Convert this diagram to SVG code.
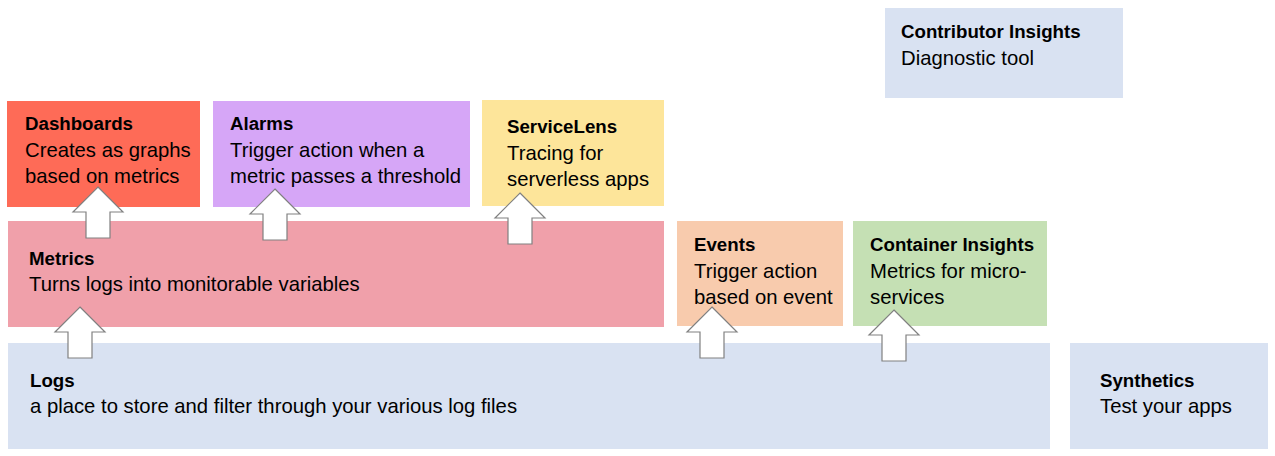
<svg xmlns="http://www.w3.org/2000/svg" width="1275" height="456" viewBox="0 0 1275 456">
<style>
text{font-family:"Liberation Sans",Arial,sans-serif;font-size:20.3px;fill:#000}
.t{font-weight:bold;font-size:18.7px}
.ar{fill:#fff;stroke:#808080;stroke-width:1.2;stroke-linejoin:miter}
</style>
<defs>
<path id="arrow" d="M0,0 L25,25 L12,25 L12,51 L-12,51 L-12,25 L-25,25 Z"/>
</defs>
<rect width="1275" height="456" fill="#fff"/>
<g id="logs"><rect x="8" y="343" width="1042" height="106" fill="#D9E2F2"/>
<text class="t" x="30" y="387">Logs</text><text x="30" y="413">a place to store and filter through your various log files</text></g>
<g id="synthetics"><rect x="1070" y="343" width="198" height="106" fill="#D9E2F2"/>
<text class="t" x="1100" y="387">Synthetics</text><text x="1100" y="413">Test your apps</text></g>
<g id="contributor"><rect x="885" y="8" width="238" height="90" fill="#D9E2F2"/>
<text class="t" x="901" y="38">Contributor Insights</text><text x="901" y="65">Diagnostic tool</text></g>
<g id="metrics"><rect x="8" y="221" width="656" height="106" fill="#F0A0AA"/>
<text class="t" x="29" y="265">Metrics</text><text x="29" y="291">Turns logs into monitorable variables</text></g>
<g id="events"><rect x="677" y="221" width="166" height="105" fill="#F8CBAD"/>
<text class="t" x="694" y="251">Events</text><text x="694" y="278">Trigger action</text><text x="694" y="304">based on event</text></g>
<g id="container"><rect x="853" y="221" width="194" height="105" fill="#C5E0B4"/>
<text class="t" x="870" y="251">Container Insights</text><text x="870" y="278">Metrics for micro-</text><text x="870" y="304">services</text></g>
<g id="dashboards"><rect x="7" y="101" width="193" height="106" fill="#FE6B57"/>
<text class="t" x="25" y="130">Dashboards</text><text x="25" y="157">Creates as graphs</text><text x="25" y="183">based on metrics</text></g>
<g id="alarms"><rect x="213" y="101" width="257" height="106" fill="#D6A6F7"/>
<text class="t" x="230" y="130">Alarms</text><text x="230" y="157">Trigger action when a</text><text x="230" y="183">metric passes a threshold</text></g>
<g id="servicelens"><rect x="482" y="100" width="182" height="106" fill="#FDE59A"/>
<text class="t" x="507" y="133">ServiceLens</text><text x="507" y="160">Tracing for</text><text x="507" y="186">serverless apps</text></g>
<g id="connectors">
<use href="#arrow" class="ar" transform="translate(98,187)"/>
<use href="#arrow" class="ar" transform="translate(275,189)"/>
<use href="#arrow" class="ar" transform="translate(520,193)"/>
<use href="#arrow" class="ar" transform="translate(80,307)"/>
<use href="#arrow" class="ar" transform="translate(712,307)"/>
<use href="#arrow" class="ar" transform="translate(894,310)"/>
</g>
</svg>
